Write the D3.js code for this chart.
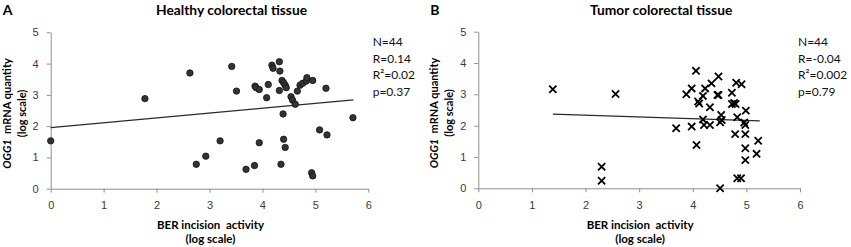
<!DOCTYPE html>
<html>
<head>
<meta charset="utf-8">
<script src="https://cdn.jsdelivr.net/npm/d3@7"></script>
<style>
    body { margin: 0; background: #fff; }
    svg { display: block; font-family: Lato, "Open Sans", sans-serif; }
    .axis path, .axis line { stroke: #8f8f8f; }
    .axis text { fill: #3a3a3a; font-size: 11px; }
    .pre { white-space: pre; }
</style>
</head>
<body>
<div id="chart"></div>
<script>
// Panel A: healthy tissue (BER incision activity vs OGG1 mRNA, both log scale)
const healthyX = [0, 1.78, 2.63, 2.75, 2.93, 3.20, 3.42, 3.51, 3.69, 3.85, 3.86, 3.88, 3.94, 3.94,
    4.08, 4.11, 4.18, 4.20, 4.32, 4.33, 4.32, 4.35, 4.37, 4.40, 4.43, 4.45, 4.39, 4.40, 4.43,
    4.54, 4.57, 4.62, 4.66, 4.71, 4.76, 4.83, 4.84, 4.95, 4.93, 4.95, 5.08, 5.20, 5.22, 5.71]
const healthyY = [1.53, 2.88, 3.70, 0.78, 1.04, 1.53, 3.91, 3.12, 0.62, 0.74, 3.28, 3.23, 3.17, 1.47,
    2.91, 3.33, 3.95, 3.85, 4.06, 3.76, 3.14, 0.78, 3.46, 3.39, 3.31, 3.23, 2.39, 1.58, 1.32,
    2.94, 2.83, 2.70, 3.12, 3.31, 3.37, 3.44, 3.55, 3.46, 0.51, 0.41, 1.88, 3.21, 1.72, 2.27]
const healthyFitX = [0, 5.72]
const healthyFitY = [1.95, 2.84]
const healthyStats = ['N=44', 'R=0.14', 'R²=0.02', 'p=0.37']

// Panel B: tumor tissue
const tumorX = [1.39, 2.56, 2.30, 2.30, 3.69, 3.88, 3.98, 3.98, 4.06, 4.07, 4.10, 4.12, 4.19, 4.23,
    4.35, 4.48, 4.32, 4.46, 4.48, 4.73, 4.81, 4.91, 4.73, 4.77, 4.80, 4.99, 4.53, 4.54, 4.51,
    4.83, 4.96, 4.98, 4.19, 4.21, 4.32, 4.79, 4.98, 5.22, 4.98, 5.19, 4.98, 4.83, 4.90, 4.51]
const tumorY = [3.16, 3.01, 0.69, 0.24, 1.92, 3.00, 3.19, 1.97, 3.75, 1.38, 2.77, 2.71, 2.95, 3.19,
    3.35, 3.57, 2.59, 2.98, 2.98, 3.05, 3.37, 3.32, 2.69, 2.72, 2.69, 2.48, 2.34, 2.18, 2.11,
    2.27, 2.10, 2.02, 2.20, 2.02, 2.02, 1.73, 1.73, 1.52, 1.28, 1.10, 0.90, 0.32, 0.32, 0.00]
const tumorFitX = [1.39, 5.25]
const tumorFitY = [2.37, 2.15]
const tumorStats = ['N=44', 'R=-0.04', 'R²=0.002', 'p=0.79']

const xTicks = [0, 1, 2, 3, 4, 5, 6]
const yTicks = [0, 1, 2, 3, 4, 5]

class ScatterPanel {
    constructor(_config, _xs, _ys, _fitX, _fitY, _stats) {
        this.config = {
            svg: _config.svg,
            left: _config.left,
            right: _config.right,
            top: _config.top,
            bottom: _config.bottom,
            statsX: _config.statsX,
            letter: _config.letter,
            title: _config.title,
            marker: _config.marker
        }
        this.points = _xs.map((x, i) => ({x: x, y: _ys[i]}))
        this.fit = _fitX.map((x, i) => ({x: x, y: _fitY[i]}))
        this.stats = _stats
        this.initVis()
    }

    initVis() {
        let vis = this
        const c = vis.config

        vis.xScale = d3.scaleLinear().domain([0, 6]).range([c.left, c.right])
        vis.yScale = d3.scaleLinear().domain([0, 5]).range([c.bottom, c.top])

        vis.g = c.svg.append('g')

        vis.g.append('g')
            .attr('class', 'axis')
            .attr('transform', `translate(0, ${c.bottom})`)
            .call(d3.axisBottom(vis.xScale).tickValues(xTicks).tickFormat(d3.format('d'))
                .tickSize(4).tickSizeOuter(0).tickPadding(9))

        vis.g.append('g')
            .attr('class', 'axis')
            .attr('transform', `translate(${c.left}, 0)`)
            .call(d3.axisLeft(vis.yScale).tickValues(yTicks).tickFormat(d3.format('d'))
                .tickSize(4).tickSizeOuter(0).tickPadding(8))

        vis.renderVis()
        vis.renderLabels()
    }

    renderVis() {
        let vis = this

        vis.g.append('path')
            .datum(vis.fit)
            .attr('fill', 'none')
            .attr('stroke', '#2a2a2a')
            .attr('stroke-width', 1.2)
            .attr('d', d3.line().x(d => vis.xScale(d.x)).y(d => vis.yScale(d.y)))

        if (vis.config.marker === 'circle') {
            vis.g.selectAll('.dot')
                .data(vis.points)
                .join('circle')
                .attr('class', 'dot')
                .attr('cx', d => vis.xScale(d.x))
                .attr('cy', d => vis.yScale(d.y))
                .attr('r', 3.2)
                .attr('fill', '#333')
                .attr('stroke', '#111')
                .attr('stroke-width', 0.8)
        } else {
            const s = 3.6
            vis.g.selectAll('.cross')
                .data(vis.points)
                .join('path')
                .attr('class', 'cross')
                .attr('transform', d => `translate(${vis.xScale(d.x)}, ${vis.yScale(d.y)})`)
                .attr('d', `M${-s},${-s}L${s},${s}M${-s},${s}L${s},${-s}`)
                .attr('stroke', '#000')
                .attr('stroke-width', 1.8)
                .attr('fill', 'none')
        }
    }

    renderLabels() {
        let vis = this
        const c = vis.config
        const midX = (c.left + c.right) / 2
        const midY = (c.top + c.bottom) / 2

        vis.g.append('text')
            .attr('x', c.left - 48)
            .attr('y', 15)
            .attr('font-size', 14)
            .attr('font-weight', 'bold')
            .attr('fill', '#000')
            .text(c.letter)

        vis.g.append('text')
            .attr('x', midX + 22)
            .attr('y', 15)
            .attr('text-anchor', 'middle')
            .attr('font-size', 13.8)
            .attr('font-weight', 'bold')
            .text(c.title)

        const xTitle = vis.g.append('text')
            .attr('class', 'pre')
            .attr('text-anchor', 'middle')
            .attr('font-size', 11.5)
            .attr('font-weight', 'bold')
        xTitle.append('tspan').attr('x', midX + 1).attr('y', 229).text('BER incision  activity')
        xTitle.append('tspan').attr('x', midX + 1).attr('y', 243).text('(log scale)')

        const yTitle = vis.g.append('text')
            .attr('class', 'pre')
            .attr('transform', `translate(${c.left - 40}, ${midY + 3}) rotate(-90)`)
            .attr('text-anchor', 'middle')
            .attr('font-size', 11)
            .attr('font-weight', 'bold')
        const line1 = yTitle.append('tspan').attr('x', 0).attr('y', 0)
        line1.append('tspan').attr('font-style', 'italic').text('OGG1')
        line1.append('tspan').text('  mRNA quantity')
        yTitle.append('tspan').attr('x', 0).attr('y', 15).text('(log scale)')

        vis.g.selectAll('.stat')
            .data(vis.stats)
            .join('text')
            .attr('class', 'stat')
            .attr('x', c.statsX)
            .attr('y', (d, i) => 46 + i * 16.5)
            .attr('font-size', 12)
            .attr('fill', '#111')
            .text(d => d)
    }
}

const svg = d3.select('#chart')
    .append('svg')
    .attr('width', 851)
    .attr('height', 247)

new ScatterPanel({svg: svg, left: 50.7, right: 368.3, top: 32.3, bottom: 188.7, statsX: 372.7,
    letter: 'A', title: 'Healthy colorectal tissue', marker: 'circle'},
    healthyX, healthyY, healthyFitX, healthyFitY, healthyStats)

new ScatterPanel({svg: svg, left: 478.3, right: 800, top: 31.7, bottom: 188.3, statsX: 798,
    letter: 'B', title: 'Tumor colorectal tissue', marker: 'cross'},
    tumorX, tumorY, tumorFitX, tumorFitY, tumorStats)
</script>
</body>
</html>
